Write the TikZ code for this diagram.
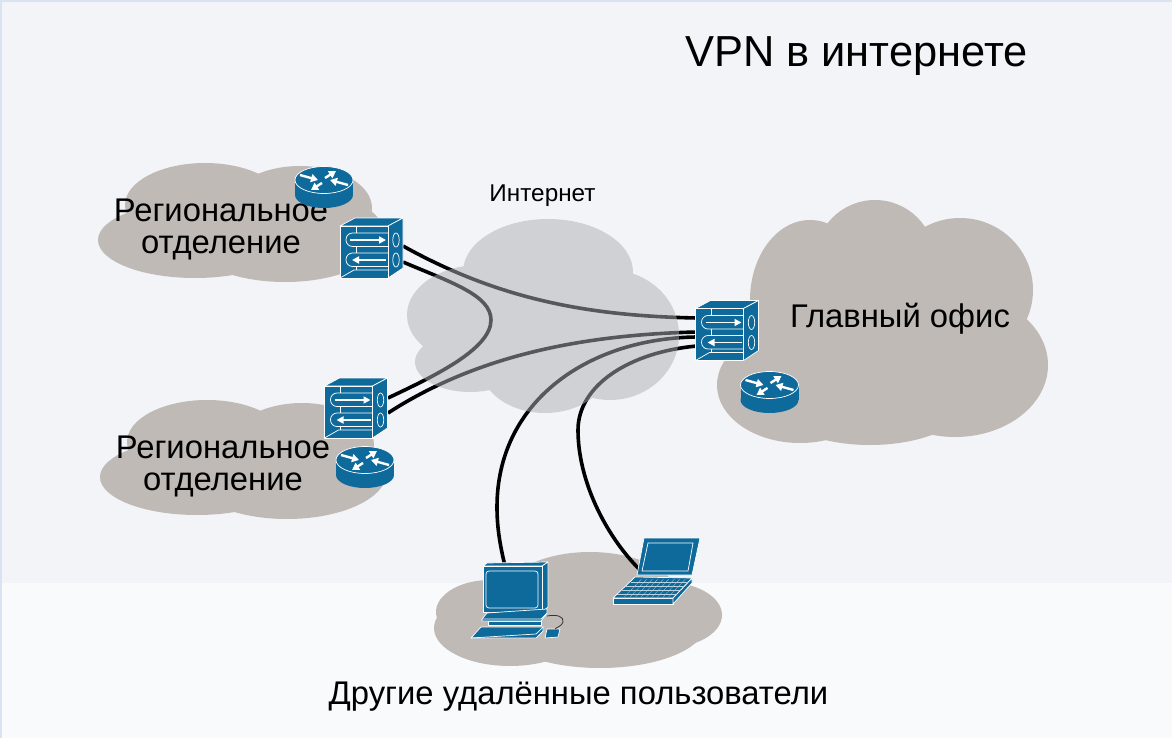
\documentclass[tikz,border=0pt]{standalone}
\usepackage{fontspec}
\setmainfont{Liberation Sans}
\usetikzlibrary{arrows.meta}
\definecolor{mBack}{HTML}{F2F4F8}
\definecolor{mBand}{HTML}{F9FAFC}
\definecolor{mEdge}{HTML}{D8E4F1}
\definecolor{mCloud}{HTML}{C0BAB6}
\definecolor{mNet}{HTML}{B0B0B4}
\definecolor{mBlue}{HTML}{0F6A9C}
\tikzset{
  cloudfill/.style={fill=mCloud},
  netfill/.style={fill=mNet, fill opacity=0.5},
  device/.style={fill=mBlue, draw=white, line width=0.7pt, line join=round},
  devline/.style={draw=white, line width=0.7pt},
  devarrow/.style={white, line width=1.7pt, -{Triangle[length=7pt, width=7pt]}},
  netarrow/.style={white, line width=2.4pt, -{Triangle[length=7pt, width=8pt]}},
  link/.style={black, line width=3.6pt},
  label/.style={font=\fontsize{32.8}{32}\selectfont, align=center, black},
  regional/.pic={
    \fill[cloudfill] \foreach \cx/\cy/\rx/\ry in {195/240/97/38, 205/205/80/42, 300/208/72/42, 285/235/100/47}
      {(\cx-340,\cy-218) ellipse [x radius=\rx, y radius=\ry]};
  },
  router/.pic={
    \fill[mBlue] (-29,0) rectangle (29,15);
    \fill[mBlue] (0,15) ellipse [x radius=29, y radius=13];
    \draw[device] (0,0) ellipse [x radius=29, y radius=13.5];
    \draw[netarrow] (-24,-5) -- (-6,0);
    \draw[netarrow] (24,5) -- (6,0);
    \draw[netarrow] (1,-2) -- (12,-9);
    \draw[netarrow] (-2,3) -- (-13,10);
  },
  vpnbox/.pic={
    \draw[device] (0,8) -- (15,0) -- (63,0) -- (48,8) -- cycle;
    \draw[device] (48,8) -- (63,0) -- (63,50) -- (48,60) -- cycle;
    \draw[device] (0,8) rectangle (48,60);
    \draw[devline] (16,8) -- (16,15) (16,28.5) -- (16,35) (16,48.5) -- (16,52);
    \draw[devline] (0,60) -- (14,52) -- (48,52);
    \draw[devline, rounded corners=6.5pt] (48,15) -- (6,15) -- (6,28.5) -- (48,28.5);
    \draw[devline, rounded corners=6.5pt] (48,35) -- (6,35) -- (6,48.5) -- (48,48.5);
    \draw[devarrow] (10,22) -- (46,22);
    \draw[devarrow] (46,42) -- (12,42);
    \draw[devline] (56,22) ellipse [x radius=3.2, y radius=7];
    \draw[devline] (56,42) ellipse [x radius=3.2, y radius=7];
  },
}
\begin{document}
\begin{tikzpicture}[x=1pt, y=-1pt]
  \useasboundingbox (0,0) rectangle (1172,738);
  \fill[mBack] (0,0) rectangle (1172,583);
  \fill[mBand] (0,583) rectangle (1172,738);
  \fill[mEdge] (0,0) rectangle (1172,2);
  \fill[mEdge] (0,0) rectangle (1.5,738);
  % clouds
  \pic at (340,218) {regional};
  \pic at (342,455) {regional};
  \fill[cloudfill] \foreach \cx/\cy/\rx/\ry in {810/300/60/80, 875/260/60/60, 960/290/73/72, 955/365/93/72, 800/385/83/58, 870/398/100/47, 880/340/80/60}
    {(\cx,\cy) ellipse [x radius=\rx, y radius=\ry]};
  \fill[cloudfill] \foreach \cx/\cy/\rx/\ry in {590/600/90/48, 510/628/76/38, 600/625/105/43, 665/615/57/33, 490/612/54/32}
    {(\cx,\cy) ellipse [x radius=\rx, y radius=\ry]};
  % link ends
  \coordinate (topA) at (403,246);
  \coordinate (topB) at (403,262);
  \coordinate (lowA) at (388,398);
  \coordinate (lowB) at (388,413);
  \coordinate (hqA) at (697,318);
  \coordinate (hqB) at (697,332);
  \coordinate (hqC) at (697,337);
  \coordinate (hqD) at (697,346);
  \coordinate (pcEnd) at (505,566);
  \coordinate (lapEnd) at (640,570);
  \draw[link] (topA) .. controls (500,300) and (590,316) .. (hqA);
  \draw[link] (topB) .. controls (450,282) and (491,295) .. (491,320) .. controls (491,350) and (430,378) .. (lowA);
  \draw[link] (lowB) .. controls (470,360) and (570,335) .. (hqB);
  \draw[link] (hqC) .. controls (590,338) and (497,400) .. (497,507) .. controls (497,528) and (500,545) .. (pcEnd);
  \draw[link] (hqD) .. controls (630,352) and (578,385) .. (578,430) .. controls (578,480) and (605,535) .. (lapEnd);
  \fill[netfill] \foreach \cx/\cy/\rx/\ry in {548/272/85/53, 480/315/73/50, 470/362/55/30, 545/365/65/48, 610/335/69/65}
    {(\cx,\cy) ellipse [x radius=\rx, y radius=\ry]};
  % texts
  \node[black, font=\fontsize{43.4}{48}\selectfont] (title) at (856.5,56) {VPN в интернете};
  \node[black, font=\fontsize{24.3}{28}\selectfont] (inet) at (542.5,196) {Интернет};
  \node[label] (regTop) at (221,229) {Региональное\\отделение};
  \node[label] (regLow) at (223,466) {Региональное\\отделение};
  \node[label] (hq) at (900,319) {Главный офис};
  \node[label] (others) at (578.5,697) {Другие удалённые пользователи};
  % devices
  \pic (routerTop) at (324,180) {router};
  \pic (routerHq) at (769.5,385) {router};
  \pic (routerLow) at (365,460) {router};
  \pic (boxTop) at (340,218) {vpnbox};
  \pic (boxHq) at (695.5,300.5) {vpnbox};
  \pic (boxLow) at (324.5,378) {vpnbox};
  % desktop
  \draw[device] (483,566) -- (487,563) -- (548,562) -- (542,566) -- cycle;
  \draw[device] (542,566) -- (548,562) -- (548,607) -- (542,612) -- cycle;
  \draw[device] (483,566) rectangle (542,612);
  \draw[devline, rounded corners=3pt] (486,571) rectangle (538,608);
  \draw[device] (488,621) rectangle (541,625);
  \draw[device] (482,619) -- (487,613) -- (547,609) -- (547,613) -- (541,621) -- (482,621) -- cycle;
  \draw[devline] (482,619) -- (541,619) -- (547,613);
  \draw[device] (471,638) -- (481,627) -- (543,627) -- (543,631) -- (536,638) -- cycle;
  \draw[devline] (471,638) -- (536,634) -- (543,627);
  \draw[device] (545,638) -- (547,629) -- (560,629) -- (558,637) -- cycle;
  \draw[black!80, line width=0.8pt] (547,616) .. controls (558,614) and (564,617) .. (563,622) .. controls (562,626) and (557,627) .. (555,629);
  % laptop
  \draw[device] (637,575) -- (644,538) -- (700,538) -- (692,575) -- cycle;
  \draw[devline] (642,571) -- (648,543) -- (693,543) -- (688,571) -- cycle;
  \draw[device] (613,598) rectangle (673,604);
  \draw[device] (673,598) -- (692,578) -- (692,583) -- (673,604) -- cycle;
  \draw[device] (613,598) -- (635,577) -- (692,578) -- (673,598) -- cycle;
  \foreach \i in {1,...,4}
    \draw[white!70!mBlue, line width=0.25pt] ({613+\i*4.4},{598-\i*4}) -- ({673+\i*3.8},{598-\i*4});
  \foreach \i in {1,...,9}
    \draw[white!70!mBlue, line width=0.25pt] ({619+\i*5.5},597) -- ({636+\i*5.5},579);
\end{tikzpicture}
\end{document}
